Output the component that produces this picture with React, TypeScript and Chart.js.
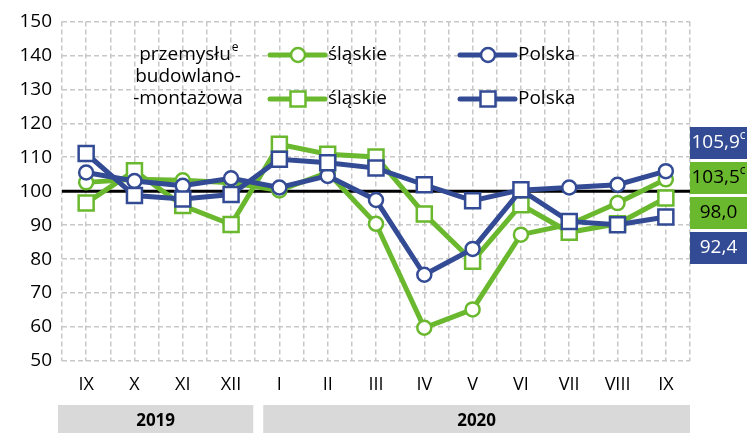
import React, { useEffect, useRef } from "react";
import { Chart, registerables } from "chart.js";
Chart.register(...registerables);

const GREEN = "#6ab82e";
const BLUE = "#334b94";
const FONT = "'Open Sans', 'Noto Sans', sans-serif";

const months = ["IX", "X", "XI", "XII", "I", "II", "III", "IV", "V", "VI", "VII", "VIII", "IX"];
const yTicks = [50, 60, 70, 80, 90, 100, 110, 120, 130, 140, 150];
const slaskiePrzemysl = [102.6, 103.5, 103.2, 102.5, 100.2, 105.5, 90.4, 59.8, 65.2, 87.2, 90.2, 96.5, 103.5];
const polskaPrzemysl = [105.5, 103.0, 101.6, 103.8, 101.1, 104.5, 97.4, 75.4, 83.0, 100.3, 101.1, 101.9, 105.9];
const slaskieBudowl = [96.5, 106.0, 95.8, 90.2, 113.8, 110.9, 110.1, 93.3, 79.4, 96.0, 87.9, 90.4, 98.0];
const polskaBudowl = [111.1, 98.7, 97.7, 99.0, 109.4, 108.4, 106.8, 101.9, 97.2, 100.4, 91.1, 90.1, 92.4];
const years = [
  { label: "2019", from: 0, to: 3 },
  { label: "2020", from: 4, to: 12 },
];
const endLabels = [
  { text: "105,9", sup: "c", bg: BLUE, fg: "#ffffff" },
  { text: "103,5", sup: "c", bg: GREEN, fg: "#000000" },
  { text: "98,0", sup: "", bg: GREEN, fg: "#000000" },
  { text: "92,4", sup: "", bg: BLUE, fg: "#ffffff" },
];
const legendRows = [
  { lines: ["przemysłu"], sup: "e", style: "circle" },
  { lines: ["budowlano-", "-montażowa"], sup: "", style: "rect" },
];
const legendSeries = [
  { label: "śląskie", color: GREEN },
  { label: "Polska", color: BLUE },
];

function pts(arr: number[]) {
  return arr.map((y, i) => ({ x: i, y }));
}

function drawMarker(ctx: CanvasRenderingContext2D, style: string, x: number, y: number, color: string) {
  ctx.save();
  ctx.fillStyle = "#ffffff";
  ctx.strokeStyle = color;
  ctx.lineWidth = 2.5;
  ctx.beginPath();
  if (style === "circle") ctx.arc(x, y, 7, 0, Math.PI * 2);
  else ctx.rect(x - 7.5, y - 7.5, 15, 15);
  ctx.fill();
  ctx.stroke();
  ctx.restore();
}

const overlayPlugin = {
  id: "overlay",
  beforeDatasetsDraw(chart: any) {
    const { ctx, chartArea, scales } = chart;
    const y = scales.y.getPixelForValue(100);
    ctx.save();
    ctx.strokeStyle = "#000000";
    ctx.lineWidth = 3;
    ctx.beginPath();
    ctx.moveTo(chartArea.left, y);
    ctx.lineTo(chartArea.right + 2, y);
    ctx.stroke();
    ctx.restore();
  },
  afterDraw(chart: any) {
    const { ctx, chartArea, scales } = chart;
    const xs = scales.x;
    ctx.save();
    // year bands
    years.forEach((yr, i) => {
      const l = xs.getPixelForValue(yr.from - 0.5) + (i === 0 ? -4 : 8);
      const r = xs.getPixelForValue(yr.to + 0.5) + (i === 0 ? -2 : 0);
      const top = chartArea.bottom + 44;
      ctx.fillStyle = "#d9d9d9";
      ctx.fillRect(l, top, r - l, chart.height - top);
      ctx.fillStyle = "#000000";
      ctx.font = `bold 17px ${FONT}`;
      ctx.textAlign = "center";
      ctx.textBaseline = "middle";
      ctx.fillText(yr.label, (l + r) / 2, top + 16);
    });
    // end labels
    const bx = chartArea.right;
    const bw = chart.width - bx;
    let by = 127;
    endLabels.forEach((lb) => {
      ctx.fillStyle = lb.bg;
      ctx.fillRect(bx, by, bw, 32);
      ctx.font = `19px ${FONT}`;
      const tw = ctx.measureText(lb.text).width;
      ctx.font = `12px ${FONT}`;
      const sw = lb.sup ? ctx.measureText(lb.sup).width : 0;
      const start = bx + (bw - tw - sw) / 2;
      ctx.fillStyle = lb.fg;
      ctx.textAlign = "left";
      ctx.textBaseline = "middle";
      ctx.font = `19px ${FONT}`;
      ctx.fillText(lb.text, start, by + 16);
      if (lb.sup) {
        ctx.font = `12px ${FONT}`;
        ctx.fillText(lb.sup, start + tw, by + 9);
      }
      by += 35;
    });
    // legend
    const rowY = [55, 99];
    legendRows.forEach((row, ri) => {
      const cy = rowY[ri];
      ctx.fillStyle = "#000000";
      ctx.textBaseline = "middle";
      ctx.font = `19px ${FONT}`;
      if (row.lines.length === 1) {
        const tw = ctx.measureText(row.lines[0]).width;
        ctx.textAlign = "left";
        const sx = 188 - tw / 2 - 3;
        ctx.fillText(row.lines[0], sx, cy);
        ctx.font = `12px ${FONT}`;
        ctx.fillText(row.sup, sx + tw + 1, cy - 7);
      } else {
        ctx.textAlign = "center";
        ctx.fillText(row.lines[0], 188, cy - 22);
        ctx.fillText(row.lines[1], 188, cy);
      }
      legendSeries.forEach((s, si) => {
        const x0 = si === 0 ? 270 : 460;
        ctx.strokeStyle = s.color;
        ctx.lineWidth = 5;
        ctx.lineCap = "round";
        ctx.beginPath();
        ctx.moveTo(x0, cy);
        ctx.lineTo(x0 + 55, cy);
        ctx.stroke();
        drawMarker(ctx, row.style, x0 + 28, cy, s.color);
        ctx.fillStyle = "#000000";
        ctx.font = `19px ${FONT}`;
        ctx.textAlign = "left";
        ctx.textBaseline = "middle";
        ctx.fillText(s.label, x0 + 58, cy);
      });
    });
    ctx.restore();
  },
};

export default function App() {
  const ref = useRef<HTMLCanvasElement | null>(null);
  useEffect(() => {
    document.body.style.margin = "0";
    const mk = (data: number[], color: string, style: string, order: number) => ({
      data: pts(data),
      borderColor: color,
      borderWidth: 5,
      pointStyle: style,
      pointRadius: style === "rect" ? 10.6 : 7,
      pointBorderWidth: 2.5,
      pointBackgroundColor: "#ffffff",
      pointBorderColor: color,
      order,
      clip: false as any,
    });
    const chart = new Chart(ref.current!, {
      type: "line",
      data: {
        datasets: [
          mk(slaskiePrzemysl, GREEN, "circle", 3),
          mk(slaskieBudowl, GREEN, "rect", 2),
          mk(polskaPrzemysl, BLUE, "circle", 1),
          mk(polskaBudowl, BLUE, "rect", 0),
        ],
      },
      options: {
        animation: false,
        responsive: true,
        maintainAspectRatio: false,
        layout: { padding: { top: 20, right: 57, left: 0, bottom: 0 } },
        plugins: { legend: { display: false }, tooltip: { enabled: false } },
        scales: {
          x: {
            type: "linear",
            min: -0.5,
            max: 12.5,
            afterBuildTicks: (s: any) => {
              const t: any[] = [];
              for (let i = -1; i <= 25; i++) t.push({ value: i / 2 });
              s.ticks = t;
            },
            afterFit: (s: any) => {
              s.height = 72;
            },
            grid: { color: "#c8c8c8", lineWidth: 1.5, drawTicks: false },
            border: { display: false, dash: [5, 3] },
            ticks: {
              autoSkip: false,
              maxRotation: 0,
              padding: 13,
              color: "#000000",
              font: { family: FONT, size: 18 },
              callback: (v: any) => (Number.isInteger(v) && v >= 0 ? months[v] : ""),
            },
          },
          y: {
            min: 50,
            max: 150,
            afterBuildTicks: (s: any) => {
              s.ticks = yTicks.map((v) => ({ value: v }));
            },
            afterFit: (s: any) => {
              s.width = 62;
            },
            grid: { color: "#c8c8c8", lineWidth: 1.5, drawTicks: false },
            border: { display: false, dash: [5, 3] },
            ticks: {
              padding: 10,
              color: "#000000",
              font: { family: FONT, size: 19 },
            },
          },
        },
      },
      plugins: [overlayPlugin],
    } as any);
    return () => chart.destroy();
  }, []);
  return (
    <div style={{ width: 747, height: 433, position: "relative" }}>
      <canvas ref={ref} />
    </div>
  );
}
